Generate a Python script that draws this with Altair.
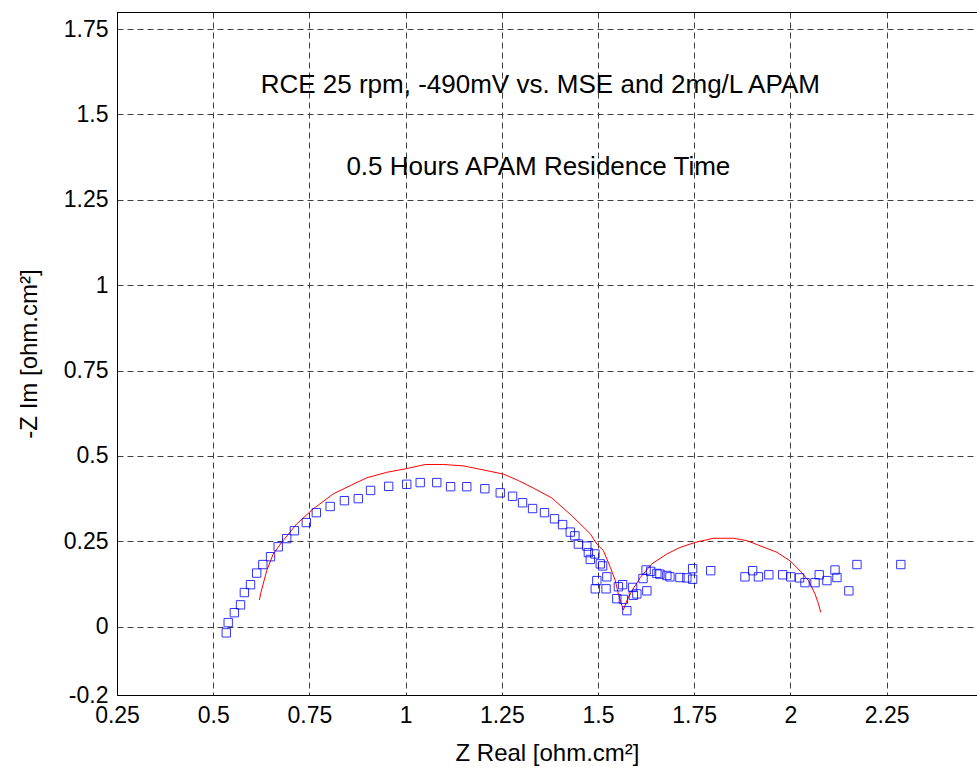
import altair as alt
import pandas as pd

# Measured data (blue squares)
meas_x = [0.534, 0.539, 0.555, 0.571, 0.581, 0.597, 0.613, 0.629, 0.649, 0.669,
          0.691, 0.711, 0.742, 0.768, 0.804, 0.841, 0.877, 0.909, 0.956, 1.003,
          1.038, 1.081, 1.117, 1.159, 1.206, 1.246, 1.278, 1.304, 1.330, 1.361,
          1.387, 1.408, 1.428, 1.440, 1.449, 1.471, 1.475, 1.492, 1.480, 1.506,
          1.512, 1.523, 1.497, 1.493, 1.521, 1.553, 1.564, 1.549, 1.566, 1.575,
          1.590, 1.592, 1.601, 1.617, 1.627, 1.625, 1.637, 1.653, 1.661, 1.679,
          1.687, 1.713, 1.731, 1.746, 1.746, 1.793, 1.882, 1.902, 1.917, 1.944,
          1.980, 2.001, 2.024, 2.038, 2.064, 2.075, 2.095, 2.116, 2.121, 2.152,
          2.173, 2.287]
meas_y = [-0.018, 0.012, 0.041, 0.064, 0.100, 0.123, 0.157, 0.182, 0.205, 0.234,
          0.258, 0.281, 0.305, 0.334, 0.352, 0.369, 0.375, 0.399, 0.411, 0.417,
          0.422, 0.422, 0.410, 0.410, 0.404, 0.392, 0.382, 0.363, 0.346, 0.334,
          0.316, 0.299, 0.277, 0.266, 0.242, 0.236, 0.217, 0.213, 0.197, 0.184,
          0.178, 0.146, 0.135, 0.111, 0.111, 0.117, 0.123, 0.082, 0.080, 0.047,
          0.115, 0.092, 0.096, 0.141, 0.105, 0.166, 0.162, 0.156, 0.154, 0.150,
          0.146, 0.144, 0.143, 0.170, 0.139, 0.164, 0.146, 0.164, 0.146, 0.152,
          0.152, 0.146, 0.143, 0.129, 0.129, 0.152, 0.135, 0.166, 0.144, 0.105,
          0.182, 0.182]

# Fitted curve (red line)
fit_x = [0.620, 0.624, 0.639, 0.656, 0.678, 0.717, 0.760, 0.812, 0.856, 0.899,
         0.951, 1.003, 1.051, 1.098, 1.150, 1.202, 1.254, 1.293, 1.332, 1.380,
         1.432, 1.480, 1.497, 1.514, 1.532, 1.545, 1.553, 1.562, 1.566, 1.575,
         1.588, 1.610, 1.640, 1.679, 1.713, 1.753, 1.800, 1.852, 1.887, 1.921,
         1.965, 1.999, 2.025, 2.047, 2.064, 2.073, 2.079]
fit_y = [0.078, 0.100, 0.164, 0.213, 0.247, 0.301, 0.345, 0.389, 0.413, 0.436,
         0.452, 0.463, 0.475, 0.475, 0.471, 0.459, 0.447, 0.428, 0.406, 0.377,
         0.325, 0.272, 0.242, 0.223, 0.174, 0.135, 0.096, 0.062, 0.049, 0.076,
         0.105, 0.144, 0.184, 0.213, 0.232, 0.247, 0.259, 0.259, 0.252, 0.237,
         0.218, 0.193, 0.164, 0.135, 0.096, 0.067, 0.042]

x_ticks = [0.25, 0.5, 0.75, 1.0, 1.25, 1.5, 1.75, 2.0, 2.25]
y_ticks = [-0.2, 0.0, 0.25, 0.5, 0.75, 1.0, 1.25, 1.5, 1.75]

notes_text = ["RCE 25 rpm, -490mV vs. MSE and 2mg/L APAM",
              "0.5 Hours APAM Residence Time"]
notes_x = [1.35, 1.345]
notes_y = [1.585, 1.346]

X_DOMAIN = [0.25, 2.485]
Y_DOMAIN = [-0.2, 1.8]
W, H = 860, 683
FONT = "Liberation Sans"

meas = pd.DataFrame({"x": meas_x, "y": meas_y})
fit = pd.DataFrame({"x": fit_x, "y": fit_y, "order": list(range(len(fit_x)))})
notes = pd.DataFrame({"x": notes_x, "y": notes_y, "t": notes_text})

xs = alt.Scale(domain=X_DOMAIN, nice=False, zero=False)
ys = alt.Scale(domain=Y_DOMAIN, nice=False, zero=False)

common = dict(grid=True, gridDash=[6, 4], gridColor="#404040", gridWidth=1,
              ticks=False, labelExpr="'' + datum.value",
              domainColor="black", labelColor="black", titleColor="black",
              labelFont=FONT, titleFont=FONT, labelFontSize=23, titleFontSize=24,
              titleFontWeight="normal", labelFlush=False)

x_axis = alt.Axis(values=x_ticks, title="Z Real [ohm.cm²]",
                  labelPadding=9, titlePadding=14, **common)
y_axis = alt.Axis(values=y_ticks, title="-Z Im [ohm.cm²]",
                  labelPadding=9, titlePadding=22, **common)

pts = alt.Chart(meas).mark_point(shape="square", filled=False, color="#0000ff",
                                 size=70, strokeWidth=1, opacity=0.8).encode(
    x=alt.X("x:Q", scale=xs, axis=x_axis),
    y=alt.Y("y:Q", scale=ys, axis=y_axis),
)

line = alt.Chart(fit).mark_line(color="#ff0000", strokeWidth=1).encode(
    x=alt.X("x:Q", scale=xs),
    y=alt.Y("y:Q", scale=ys),
    order="order:Q",
)

txt = alt.Chart(notes).mark_text(font=FONT, fontSize=26, color="black",
                                 align="center", baseline="middle").encode(
    x=alt.X("x:Q", scale=xs),
    y=alt.Y("y:Q", scale=ys),
    text="t:N",
)

top_border = alt.Chart(meas).mark_rule(color="black", strokeWidth=1).encode(
    x=alt.value(0), x2=alt.value(W), y=alt.value(0.5)
)

chart = alt.layer(line, pts, txt, top_border).properties(
    width=W, height=H,
    autosize=alt.AutoSizeParams(type="none"),
    padding={"left": 117, "top": 12, "right": 0, "bottom": 77},
).configure_view(stroke=None).configure(background="white")

chart.save("out.html", embed_options={"renderer": "svg", "actions": False})
